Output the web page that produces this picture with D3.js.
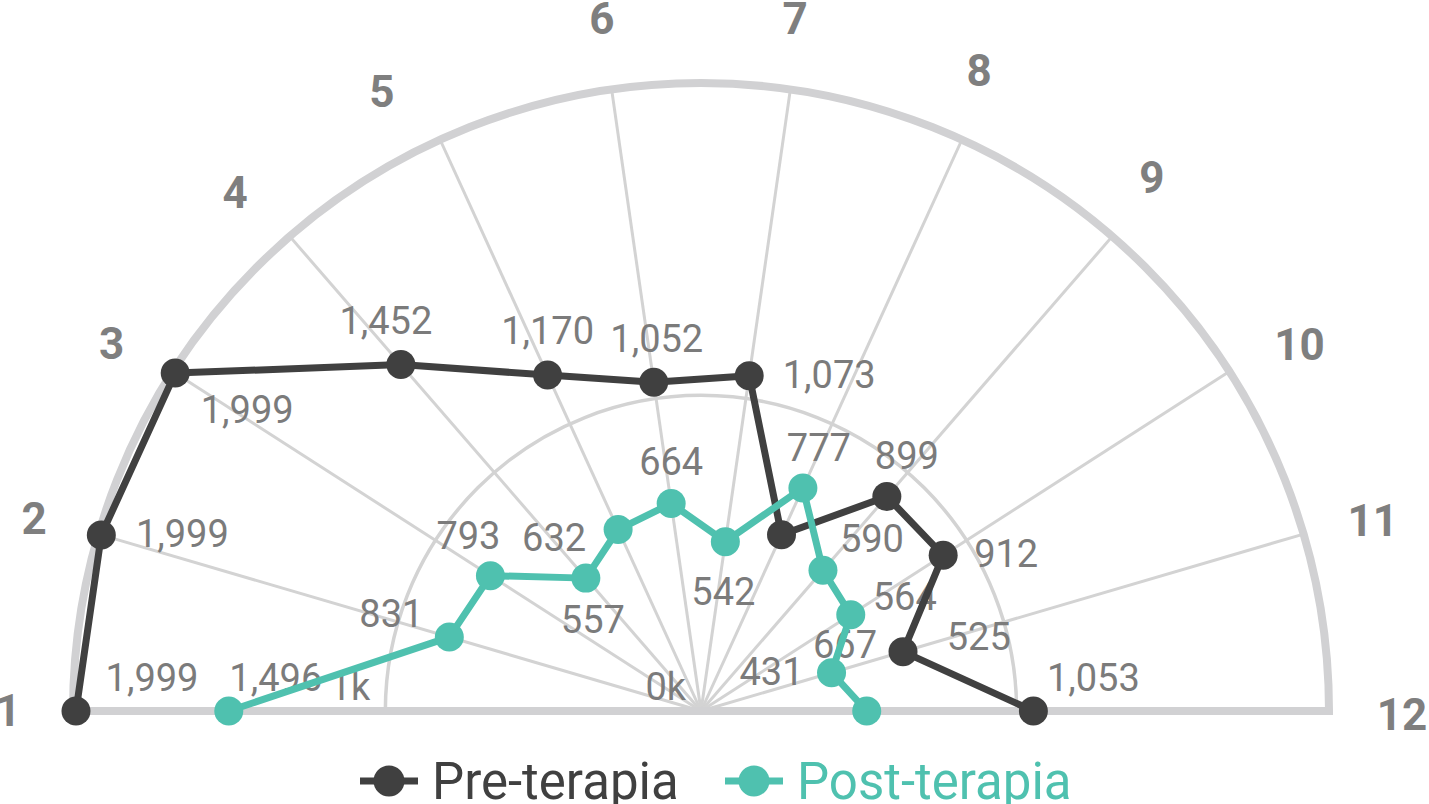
<!DOCTYPE html>
<html><head><meta charset="utf-8">
<script src="https://cdn.jsdelivr.net/npm/d3@7"></script>
<style>
body{margin:0;background:#fff}
svg{display:block}
text{font-family:Roboto,"Noto Sans",sans-serif}
</style>
</head><body>
<svg id="chart" width="1429" height="804"></svg>
<script>
// ---------- data ----------
const categories = ["1","2","3","4","5","6","7","8","9","10","11","12"];
const preValues  = [1999,1999,1999,1452,1170,1052,1073,614,899,912,667,1053];
const postValues = [1496,831,793,557,632,664,542,777,590,564,431,525];
const seriesNames = ["Pre-terapia","Post-terapia"];
const radialTicks = [0,1000];
const radialTickLabels = ["0k","1k"];
// which data labels are drawn (the reference hides one overlapping label)
const preLabelShown  = [1,1,1,1,1,1,1,0,1,1,1,1];
const postLabelShown = [1,1,1,1,1,1,1,1,1,1,1,1];

// ---------- layout / style ----------
const W = 1429, H = 804, cx = 701, cy = 711;
const colors = ["#404040", "#4fc1af"];
// data-label placement [dx of text centre, dy of baseline] relative to its point
const preLabelOffsets  = [[76,-20],[81,12],[72,50],[-15,-31],[0,-31],[3,-30],[80,12],[0,0],[20,-28],[63,12],[-58,6],[60,-20]];
const postLabelOffsets = [[47,-20],[-58,-10],[-22,-27],[7,55],[-64,21],[0,-29],[-2,63],[16,-27],[49,-18],[54,-5],[-60,12],[112,-61]];
// category-label nudges relative to their radial anchor
const catLabelRadius = 696;
const catLabelNudge = [[3,0],[1,4],[-4,9],[-10,8],[-30,14],[0,-3],[-5,-3],[-11,-7],[-5,-7],[13,10],[4,6],[5,4]];

const svg = d3.select("#chart");
const g = svg.append("g").attr("transform", `translate(${cx},${cy})`);

const angle = d3.scalePoint().domain(categories).range([-Math.PI/2, Math.PI/2]);
const r = d3.scaleLinear().domain([0, 1980]).range([0, 625]).clamp(true);
const paneR = 628;

// grid: spokes
g.append("g").selectAll("line").data(categories).join("line")
  .attr("x1",0).attr("y1",0)
  .attr("x2", d => d3.pointRadial(angle(d), paneR)[0])
  .attr("y2", d => d3.pointRadial(angle(d), paneR)[1])
  .attr("stroke","#d3d3d3").attr("stroke-width",3);

// grid: radial tick arcs
radialTicks.filter(t => t > 0).forEach(t => {
  const p = d3.path();
  p.moveTo(-r(t), 0);
  p.arc(0, 0, r(t), Math.PI, 2*Math.PI);
  g.append("path").attr("d", p.toString()).attr("fill","none")
    .attr("stroke","#d3d3d3").attr("stroke-width",3.5);
});

// pane border (semicircle + baseline)
g.append("path")
  .attr("d", d3.arc()({innerRadius:0, outerRadius:paneR, startAngle:-Math.PI/2, endAngle:Math.PI/2}))
  .attr("fill","none").attr("stroke","#d1d1d3").attr("stroke-width",8);

// radial tick labels
g.append("g").selectAll("text").data(radialTicks).join("text")
  .attr("x", d => -r(d) - 15).attr("y", -11)
  .attr("text-anchor","end").attr("font-size",38).attr("fill","#7b7b7b")
  .text((d,i) => radialTickLabels[i]);

// category labels
g.append("g").selectAll("text").data(categories).join("text")
  .attr("x", (d,i) => d3.pointRadial(angle(d), catLabelRadius)[0] + catLabelNudge[i][0])
  .attr("y", (d,i) => d3.pointRadial(angle(d), catLabelRadius)[1] + catLabelNudge[i][1])
  .attr("text-anchor","middle").attr("dominant-baseline","central")
  .attr("font-size",44).attr("font-weight","bold").attr("fill","#7f7f7f")
  .text(d => d);

const fmt = d3.format(",");
const series = [
  {name: seriesNames[0], values: preValues, shown: preLabelShown, offs: preLabelOffsets, color: colors[0]},
  {name: seriesNames[1], values: postValues, shown: postLabelShown, offs: postLabelOffsets, color: colors[1]}
];

// data labels (drawn beneath lines)
series.forEach(s => {
  g.append("g").selectAll("text")
    .data(s.values.map((v,i) => ({v, i, c: categories[i]})).filter(d => s.shown[d.i]))
    .join("text")
    .attr("x", d => d3.pointRadial(angle(d.c), r(d.v))[0] + s.offs[d.i][0])
    .attr("y", d => d3.pointRadial(angle(d.c), r(d.v))[1] + s.offs[d.i][1])
    .attr("text-anchor","middle").attr("font-size",38).attr("fill","#7b7b7b")
    .text(d => fmt(d.v));
});

// lines + markers
const line = d3.lineRadial().angle((d,i) => angle(categories[i])).radius(d => r(d));
series.forEach(s => {
  const sg = g.append("g");
  sg.append("path").attr("d", line(s.values)).attr("fill","none")
    .attr("stroke", s.color).attr("stroke-width",7).attr("stroke-linejoin","round");
  sg.selectAll("circle").data(s.values).join("circle")
    .attr("cx", (d,i) => d3.pointRadial(angle(categories[i]), r(d))[0])
    .attr("cy", (d,i) => d3.pointRadial(angle(categories[i]), r(d))[1])
    .attr("r", 14.5).attr("fill", s.color);
});

// legend
const legendX = [360, 725];
const lg = svg.append("g");
series.forEach((s, i) => {
  const x0 = legendX[i], y0 = 781;
  lg.append("line").attr("x1", x0).attr("x2", x0 + 58).attr("y1", y0).attr("y2", y0)
    .attr("stroke", s.color).attr("stroke-width", 7);
  lg.append("circle").attr("cx", x0 + 29).attr("cy", y0).attr("r", 15.5).attr("fill", s.color);
  lg.append("text").attr("x", x0 + 72).attr("y", 799).attr("font-size", 51)
    .attr("fill", s.color).text(s.name);
});
</script>
</body></html>
